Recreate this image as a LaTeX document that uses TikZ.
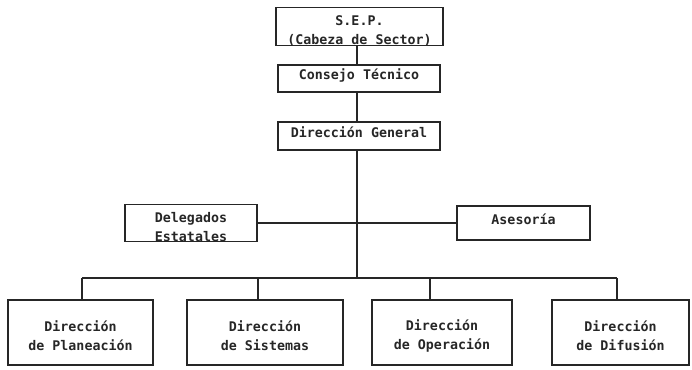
\documentclass[tikz,border=0pt]{standalone}
\usepackage{fontspec}
\newfontfamily\typefont{DejaVu Sans Mono}
\newcommand\lowtxt{\rule{0pt}{18pt}}
\newcommand\hightxt{\rule[-8pt]{0pt}{0pt}}
\begin{document}
\begin{tikzpicture}[x=1pt,y=-1pt,
  line width=1.1pt, draw=black!85,
  box/.style={draw, rectangle, inner sep=0pt, align=center,
    font=\typefont\bfseries\fontsize{13.3}{19}\selectfont, text=black!85},
  conn/.style={draw, line width=1.1pt}]
\useasboundingbox (0,0) rectangle (692,369);
\node[box, minimum width=167, minimum height=37] (sep) at (359.5,26.5) {\lowtxt S.E.P.\\(Cabeza de Sector)};
\node[box, minimum width=162, minimum height=27] (con) at (359,78.5) {\hightxt Consejo Técnico};
\node[box, minimum width=162, minimum height=28] (dg) at (359,136) {\hightxt Dirección General};
\node[box, minimum width=132, minimum height=34] (del) at (191,223) {\lowtxt Delegados\\Estatales};
\node[box, minimum width=133, minimum height=34] (ase) at (523.5,223) {\hightxt Asesoría};
\node[box, minimum width=145, minimum height=65] (pla) at (80.5,332.5) {\lowtxt Dirección\\de Planeación};
\node[box, minimum width=156, minimum height=65] (sis) at (265,332.5) {\lowtxt Dirección\\de Sistemas};
\node[box, minimum width=140, minimum height=65] (ope) at (442,332.5) {\lowtxt Dirección\\de Operación};
\node[box, minimum width=137, minimum height=65] (dif) at (620.5,332.5) {\lowtxt Dirección\\de Difusión};
% spine
\coordinate (spineTop) at (357,45);
\coordinate (b1) at (82,278);
\coordinate (b2) at (258,278);
\coordinate (b3) at (430,278);
\coordinate (b4) at (617,278);
\coordinate (bc) at (357,278);
\draw[conn] (spineTop) -- (spineTop |- con.north);
\draw[conn] (spineTop |- con.south) -- (spineTop |- dg.north);
\draw[conn] (spineTop |- dg.south) -- (bc);
\draw[conn] (del.east) -- (ase.west);
\draw[conn] (b1) -- (b4);
\draw[conn] (b1) -- (b1 |- pla.north);
\draw[conn] (b2) -- (b2 |- sis.north);
\draw[conn] (b3) -- (b3 |- ope.north);
\draw[conn] (b4) -- (b4 |- dif.north);
\end{tikzpicture}
\end{document}
